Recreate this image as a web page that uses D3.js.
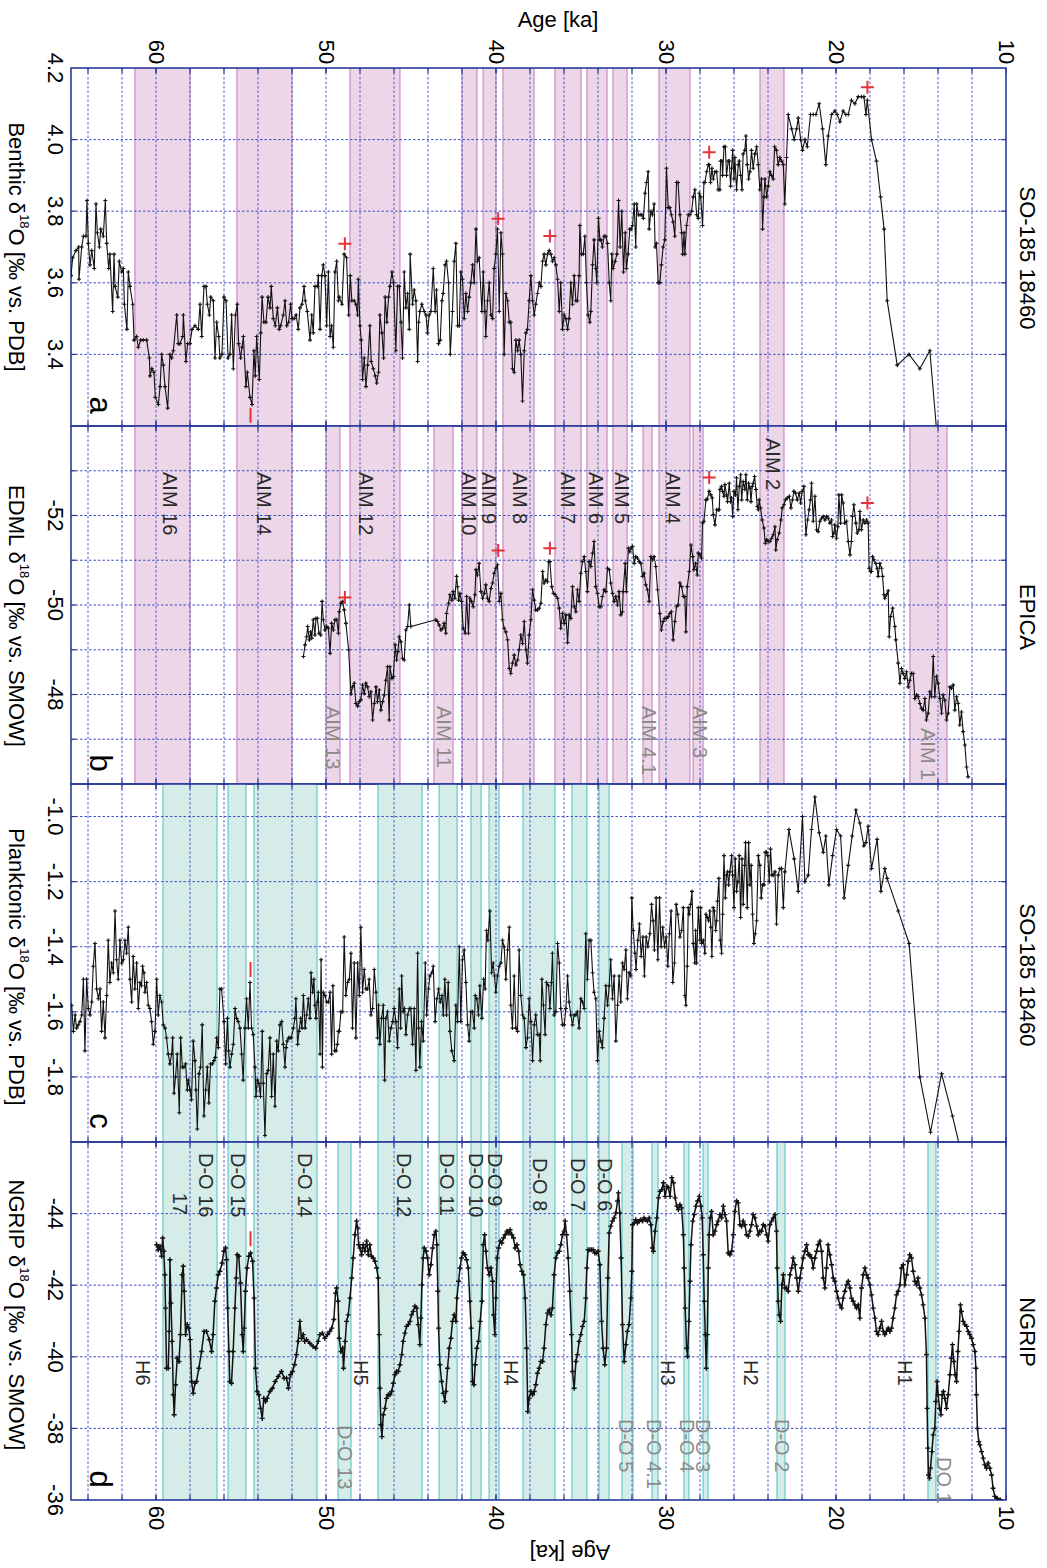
<!DOCTYPE html>
<html><head><meta charset="utf-8">
<script src="https://cdn.jsdelivr.net/npm/d3@7"></script>
<style>body{margin:0;background:#fff}svg{display:block}text{font-family:"Liberation Sans",Arial,Helvetica,sans-serif}</style>
</head><body><svg id="chart" width="1047" height="1568"></svg>
<script>
// ---------------- DATA ----------------
const ageGridTicks = [12,14,16,18,20,22,24,26,28,30,32,34,36,38,40,42,44,46,48,50,52,54,56,58,60,62,64];
const ageLabelTicks = [10,20,30,40,50,60];

const benthicTicks = [4.2,4.0,3.8,3.6,3.4];
const benthicGrid = [4.0,3.8,3.6,3.4];
const edmlTicks = [-52,-50,-48];
const edmlGrid = [-53,-52,-51,-50,-49,-48,-47];
const planktonicTicks = [-1.0,-1.2,-1.4,-1.6,-1.8];
const planktonicGrid = [-1.0,-1.2,-1.4,-1.6,-1.8];
const ngripTicks = [-44,-42,-40,-38,-36];
const ngripGrid = [-44,-42,-40,-38];

const aimBands = [[61.24,58.0],[55.24,52.0],[48.59,45.65],[42.0,41.12],[40.76,40.0],[39.59,37.76],[36.53,35.0],[34.65,33.47],[33.12,32.29],[30.41,28.59],[24.47,23.06]];
const aimBandsExtra = [[50.0,49.18],[43.65,42.53],[31.35,30.82],[28.41,27.82],[15.65,13.47]];
const doBands = [[59.59,56.41],[55.76,54.71],[54.24,50.53],[46.94,44.35],[43.35,42.29],[41.47,40.88],[40.41,39.82],[38.41,36.53],[35.53,34.65],[33.94,33.35]];
const doBandsExtra = [[49.29,48.53],[32.59,31.94],[30.82,30.47],[28.94,28.65],[27.82,27.53],[23.47,23.0],[14.59,14.12]];

const aimLabels = [["AIM 16",59.18],["AIM 14",53.65],["AIM 12",47.65],["AIM 10",41.59],["AIM 9",40.41],["AIM 8",38.59],["AIM 7",35.76],["AIM 6",34.12],["AIM 5",32.59],["AIM 4",29.59]];
const aimLabelsHigh = [["AIM 2",23.71]];
const aimLabelsGray = [["AIM 13",49.59],["AIM 11",43.06],["AIM 4.1",31.0],["AIM 3",28.0]];
const aimLabelsGrayLow = [["AIM 1",14.59]];
const doLabels = [["D-O 16",57.06],["D-O 15",55.18],["D-O 14",51.24],["D-O 12",45.41],["D-O 11",42.88],["D-O 10",41.18],["D-O 9",40.06]];
const doLabels2 = [["D-O 8",37.41],["D-O 7",35.18],["D-O 6",33.59]];
const doLabelsGray = [["D-O 13",48.88]];
const doLabelsGray2 = [["D-O 5",32.35],["D-O 4.1",30.71],["D-O 4",28.76],["D-O 3",27.82],["D-O 2",23.18]];
const doLabelsGray3 = [["DO 1",13.65]];
const heinrichLabels = [["H6",60.76],["H5",47.94],["H4",39.12],["H3",29.88],["H2",25.0],["H1",15.94]];

const benthicPlus = [[48.89,3.709],[39.87,3.779],[36.83,3.731],[27.46,3.965],[18.15,4.146]];
const benthicMinus = [[54.44,3.23]];
const edmlPlus = [[48.89,-50.17],[39.87,-51.22],[36.83,-51.27],[27.46,-52.85],[18.15,-52.28]];
const planktonicMinus = [[54.44,-1.47]];
const ngripMinus = [[54.44,-43.30]];

const benthic = [[65.0,3.62],[64.9,3.67],[64.71,3.69],[64.55,3.70],[64.53,3.61],[64.37,3.70],[64.27,3.73],[64.12,3.73],[64.06,3.83],[63.98,3.71],[63.88,3.65],[63.78,3.69],[63.63,3.64],[63.53,3.82],[63.45,3.74],[63.33,3.70],[63.25,3.75],[63.10,3.73],[62.98,3.83],[62.90,3.71],[62.78,3.64],[62.71,3.68],[62.55,3.52],[62.47,3.68],[62.41,3.59],[62.25,3.56],[62.16,3.66],[62.02,3.63],[61.92,3.64],[61.86,3.54],[61.71,3.47],[61.63,3.63],[61.53,3.59],[61.37,3.54],[61.29,3.44],[61.14,3.45],[61.04,3.42],[60.90,3.44],[60.75,3.44],[60.55,3.44],[60.39,3.39],[60.35,3.34],[60.24,3.36],[60.12,3.35],[60.04,3.28],[59.86,3.26],[59.76,3.31],[59.67,3.40],[59.57,3.37],[59.47,3.31],[59.31,3.25],[59.18,3.40],[59.08,3.39],[58.98,3.41],[58.78,3.51],[58.69,3.43],[58.59,3.43],[58.43,3.45],[58.39,3.51],[58.24,3.38],[58.14,3.43],[58.00,3.43],[57.88,3.47],[57.71,3.48],[57.51,3.47],[57.41,3.54],[57.31,3.45],[57.18,3.59],[57.06,3.59],[56.98,3.54],[56.86,3.51],[56.78,3.56],[56.63,3.55],[56.53,3.39],[56.43,3.49],[56.31,3.45],[56.24,3.39],[56.12,3.40],[56.00,3.56],[55.88,3.55],[55.76,3.39],[55.65,3.40],[55.55,3.51],[55.45,3.36],[55.33,3.51],[55.22,3.54],[55.14,3.43],[55.02,3.39],[54.94,3.42],[54.86,3.45],[54.71,3.31],[54.63,3.35],[54.47,3.28],[54.35,3.26],[54.24,3.41],[54.16,3.34],[54.08,3.45],[53.92,3.33],[53.84,3.46],[53.76,3.56],[53.65,3.49],[53.53,3.49],[53.41,3.56],[53.29,3.53],[53.22,3.59],[53.10,3.50],[52.98,3.48],[52.86,3.53],[52.75,3.47],[52.67,3.48],[52.51,3.51],[52.41,3.55],[52.31,3.48],[52.20,3.49],[52.08,3.54],[52.00,3.50],[51.88,3.50],[51.76,3.51],[51.63,3.47],[51.53,3.53],[51.41,3.54],[51.29,3.59],[51.22,3.55],[51.10,3.52],[50.94,3.44],[50.84,3.51],[50.75,3.46],[50.65,3.59],[50.51,3.59],[50.45,3.62],[50.35,3.47],[50.25,3.62],[50.16,3.65],[50.06,3.62],[49.96,3.48],[49.86,3.63],[49.76,3.45],[49.67,3.48],[49.57,3.42],[49.47,3.63],[49.37,3.66],[49.27,3.55],
[49.22,3.56],[49.06,3.54],[48.93,3.68],[48.79,3.67],[48.67,3.51],[48.57,3.62],[48.48,3.55],[48.34,3.55],[48.24,3.54],[48.14,3.51],[48.10,3.61],[48.00,3.48],[47.93,3.44],[47.85,3.33],[47.75,3.39],[47.65,3.31],[47.55,3.37],[47.42,3.48],[47.34,3.38],[47.22,3.36],[47.10,3.34],[47.02,3.32],[46.91,3.35],[46.83,3.51],[46.71,3.46],[46.61,3.39],[46.52,3.56],[46.42,3.49],[46.32,3.56],[46.24,3.59],[46.12,3.63],[46.03,3.60],[45.89,3.41],[45.79,3.59],[45.69,3.59],[45.59,3.49],[45.50,3.39],[45.40,3.63],[45.30,3.53],[45.20,3.57],[45.10,3.47],[45.05,3.68],[44.91,3.54],[44.81,3.58],[44.71,3.55],[44.61,3.38],[44.55,3.49],[44.48,3.52],[44.36,3.54],[44.22,3.52],[44.12,3.51],[44.03,3.46],[43.93,3.51],[43.83,3.52],[43.69,3.64],[43.58,3.52],[43.50,3.58],[43.38,3.43],[43.28,3.44],[43.18,3.55],[43.11,3.57],[42.99,3.65],[42.91,3.66],[42.79,3.60],[42.69,3.40],[42.56,3.52],[42.46,3.66],[42.36,3.71],[42.26,3.48],[42.16,3.48],[42.07,3.63],[41.97,3.61],[41.87,3.50],[41.77,3.57],[41.67,3.52],[41.58,3.56],[41.48,3.60],[41.38,3.65],[41.28,3.60],[41.18,3.75],[41.09,3.66],[40.99,3.67],[40.83,3.52],[40.75,3.63],[40.65,3.52],[40.60,3.45],[40.50,3.55],[40.40,3.60],[40.30,3.51],[40.20,3.50],[40.11,3.64],[40.01,3.68],[39.91,3.75],[39.81,3.52],[39.71,3.74],[39.62,3.68],[39.52,3.40],[39.42,3.57],[39.32,3.55],[39.22,3.49],[39.13,3.49],[39.03,3.36],[38.93,3.35],[38.83,3.44],[38.73,3.41],[38.64,3.44],[38.54,3.40],[38.44,3.27],[38.34,3.41],[38.24,3.46],[38.15,3.47],[38.05,3.55],[37.95,3.62],[37.85,3.55],[37.75,3.51],[37.66,3.54],[37.56,3.57],[37.46,3.60],[37.36,3.59],[37.26,3.66],[37.17,3.68],[37.07,3.65],[36.97,3.68],[36.87,3.69],[36.77,3.68],[36.68,3.66],[36.58,3.67],[36.48,3.65],[36.38,3.61],[36.28,3.52],[36.19,3.60],[36.09,3.47],[35.99,3.51],[35.89,3.50],[35.79,3.47],[35.70,3.50],[35.60,3.60],[35.50,3.54],[35.40,3.62],[35.30,3.55],[35.21,3.55],[35.11,3.62],[35.07,3.76],[34.97,3.68],[34.87,3.68],[34.77,3.73],[34.68,3.60],[34.58,3.51],[34.48,3.49],[34.42,3.52],[34.32,3.65],[34.23,3.72],[34.13,3.64],[34.07,3.60],[33.97,3.78],[33.89,3.72],[33.83,3.72],[33.74,3.70],[33.64,3.73],[33.54,3.73],[33.44,3.71],[33.34,3.60],[33.25,3.55],[33.19,3.68],[33.11,3.64],[32.99,3.66],[32.89,3.68],[32.79,3.83],[32.70,3.70],[32.60,3.80],[32.50,3.63],[32.40,3.74],[32.33,3.64],[32.23,3.68],[32.13,3.75],[32.05,3.75],[31.97,3.76],[31.87,3.82],[31.78,3.70],[31.72,3.82],[31.62,3.79],[31.52,3.79],[31.42,3.79],[31.33,3.78],[31.23,3.85],[31.15,3.88],[31.05,3.91],[30.99,3.75],[30.89,3.80],[30.80,3.79],[30.70,3.82],[30.64,3.70],[30.56,3.71],[30.46,3.60],[30.36,3.60],[30.27,3.65],[30.17,3.70],[30.07,3.72],[29.97,3.92],[29.87,3.81],[29.78,3.81],[29.68,3.79],[29.58,3.77],[29.48,3.73],[29.38,3.88],[29.29,3.88],
[29.18,3.79],[29.08,3.74],[29.02,3.68],[28.94,3.74],[28.89,3.68],[28.79,3.76],[28.69,3.79],[28.59,3.79],[28.49,3.80],[28.40,3.84],[28.30,3.86],[28.20,3.79],[28.10,3.78],[28.04,3.85],[27.96,3.84],[27.85,3.76],[27.77,3.88],[27.71,3.88],[27.61,3.91],[27.51,3.93],[27.46,3.93],[27.38,3.88],[27.30,3.92],[27.22,3.89],[27.12,3.91],[27.02,3.91],[26.93,3.86],[26.83,3.86],[26.79,3.94],[26.71,3.94],[26.67,3.90],[26.59,3.98],[26.51,3.98],[26.44,3.90],[26.34,3.94],[26.28,3.94],[26.20,3.87],[26.14,3.92],[26.08,3.97],[26.00,3.89],[25.95,3.95],[25.85,3.86],[25.75,3.93],[25.69,3.94],[25.61,3.90],[25.53,3.86],[25.46,3.96],[25.36,3.97],[25.30,4.01],[25.22,3.93],[25.14,3.89],[25.06,3.91],[24.97,3.97],[24.87,3.92],[24.77,3.96],[24.67,3.98],[24.57,3.93],[24.48,3.86],[24.38,3.89],[24.32,3.75],[24.24,3.84],[24.18,3.89],[24.08,3.84],[23.99,3.87],[23.89,3.91],[23.79,3.90],[23.69,3.89],[23.61,3.98],[23.50,3.97],[23.40,3.93],[23.30,3.95],[23.20,3.94],[23.10,3.93],[23.01,3.82],[22.91,3.95],[22.81,4.07],[22.61,4.03],[22.46,4.00],[22.32,4.03],[22.22,4.06],[22.08,4.00],[21.97,3.97],[21.83,4.00],[21.69,3.98],[21.50,4.07],[21.34,4.07],[21.18,4.07],[20.99,4.10],[20.79,4.03],[20.60,3.93],[20.46,4.01],[20.26,4.07],[20.07,4.08],[19.93,4.07],[19.77,4.05],[19.58,4.08],[19.42,4.07],[19.28,4.07],[19.09,4.11],[18.89,4.10],[18.69,4.12],[18.50,4.12],[18.36,4.12],[18.24,4.07],[18.16,4.11],[17.91,4.00],[17.62,3.94],[17.38,3.84],[17.17,3.75],[16.99,3.55],[16.40,3.37],[15.70,3.40],[15.07,3.36],[14.48,3.41],[14.05,3.17]];

const edml = [[51.33,-48.85],[51.23,-49.11],[51.14,-49.29],[51.08,-49.52],[50.98,-49.22],[50.90,-49.40],[50.84,-49.26],[50.75,-49.67],[50.65,-49.33],[50.59,-49.70],[50.51,-49.70],[50.41,-49.37],[50.31,-49.33],[50.23,-50.08],[50.16,-49.67],[50.06,-49.44],[49.96,-49.52],[49.86,-49.48],[49.76,-48.92],[49.67,-49.59],[49.57,-49.44],[49.47,-49.67],[49.37,-49.67],[49.27,-49.37],
[49.22,-49.85],[49.12,-50.04],[49.02,-50.08],[48.93,-49.89],[48.83,-49.59],[48.67,-49.00],[48.53,-48.01],[48.44,-48.17],[48.34,-48.25],[48.24,-47.80],[48.14,-47.74],[48.04,-47.84],[47.95,-47.88],[47.85,-48.21],[47.75,-48.02],[47.65,-48.25],[47.55,-48.17],[47.46,-47.95],[47.36,-48.06],[47.26,-47.43],[47.16,-47.80],[47.06,-48.17],[46.97,-47.84],[46.87,-48.10],[46.77,-47.65],[46.67,-47.84],[46.57,-47.99],[46.48,-48.32],[46.38,-48.62],[46.28,-47.43],[46.24,-48.62],[46.12,-48.36],[46.04,-48.40],[45.93,-49.11],[45.85,-48.77],[45.77,-48.96],[45.69,-49.29],[45.59,-49.18],[45.50,-48.81],[45.40,-48.77],[45.30,-49.44],[45.20,-49.52],[45.10,-50.00],[45.01,-49.52],[43.54,-49.67],[43.44,-49.63],[43.34,-49.55],[43.24,-49.44],[43.14,-49.48],[43.05,-49.59],[42.95,-49.37],[42.91,-49.81],[42.79,-50.04],[42.71,-50.23],[42.60,-50.11],[42.52,-50.30],[42.42,-50.15],[42.32,-50.64],[42.26,-50.41],[42.20,-50.11],[42.12,-50.26],[42.03,-50.08],[41.93,-49.48],[41.81,-49.37],[41.73,-50.19],[41.62,-49.37],[41.54,-50.15],[41.44,-50.08],[41.34,-49.96],[41.24,-50.23],[41.18,-50.79],[41.09,-50.67],[40.99,-50.93],[40.89,-50.30],[40.79,-50.15],[40.69,-50.26],[40.60,-50.45],[40.50,-50.15],[40.40,-50.08],[40.30,-50.37],[40.20,-50.49],[40.11,-50.71],[40.01,-50.82],[39.91,-50.90],[39.81,-50.08],[39.71,-50.26],[39.62,-49.67],[39.52,-49.48],[39.42,-49.40],[39.32,-49.22],[39.22,-48.58],[39.13,-48.47],[39.03,-48.70],[38.93,-48.88],[38.83,-48.66],[38.73,-48.77],[38.64,-49.00],[38.54,-49.33],[38.44,-49.14],[38.34,-49.63],[38.24,-49.00],[38.15,-48.70],[38.05,-49.33],[37.95,-49.67],[37.85,-50.34],[37.75,-50.11],[37.66,-49.89],[37.56,-49.89],[37.46,-49.93],[37.36,-50.04],[37.26,-50.75],[37.17,-50.49],[37.07,-50.56],[36.97,-50.52],[36.91,-50.97],[36.83,-50.97],[36.72,-50.41],[36.62,-50.26],[36.52,-50.23],[36.38,-50.15],[36.28,-49.93],[36.19,-49.48],[36.09,-49.81],[35.99,-49.59],[35.89,-49.78],[35.79,-49.16],[35.70,-49.78],[35.60,-49.70],[35.50,-50.41],[35.40,-49.96],[35.30,-49.85],[35.21,-50.34],[35.11,-50.08],[35.01,-50.71],[34.91,-50.97],[34.81,-51.08],[34.72,-50.75],[34.62,-50.30],[34.52,-50.97],[34.42,-50.86],[34.32,-51.16],[34.23,-51.42],[34.13,-50.41],[34.03,-50.26],[33.93,-49.96],[33.83,-49.96],[33.74,-50.19],[33.64,-50.34],[33.54,-50.30],[33.44,-50.82],[33.34,-50.79],[33.25,-50.49],[33.15,-50.26],[33.05,-50.08],[32.95,-50.19],[32.85,-50.00],[32.76,-50.30],[32.66,-49.78],[32.56,-49.85],[32.52,-50.30],[32.40,-50.93],[32.33,-50.30],[32.21,-51.27],[32.13,-51.19],[32.05,-51.27],[31.97,-51.31],[31.87,-50.93],[31.78,-51.08],[31.68,-51.05],[31.58,-50.97],[31.48,-50.93],[31.38,-50.64],[31.29,-50.71],[31.19,-50.45],[31.09,-50.34],[30.99,-50.08],[30.89,-51.08],[30.80,-51.01],[30.70,-51.08],[30.60,-50.86],[30.50,-50.34],[30.36,-49.81],[30.27,-49.44],[30.17,-49.63],[30.07,-49.70],[29.97,-49.70],[29.87,-49.74],[29.78,-49.81],[29.68,-49.85],[29.58,-49.22],[29.48,-49.63],[29.38,-49.96],[29.29,-50.00],
[29.18,-50.49],[29.08,-50.41],[28.98,-50.19],[28.89,-50.19],[28.83,-49.40],[28.75,-50.41],[28.63,-50.75],[28.53,-51.34],[28.43,-51.08],[28.36,-50.79],[28.26,-50.93],[28.16,-50.67],[28.10,-51.16],[28.00,-51.12],[27.91,-51.05],[27.85,-51.83],[27.77,-51.87],[27.65,-52.35],[27.57,-52.37],[27.46,-52.54],[27.36,-52.46],[27.28,-52.39],[27.22,-52.02],[27.12,-51.79],[27.02,-52.13],[26.93,-52.13],[26.87,-52.13],[26.83,-52.58],[26.73,-52.65],[26.67,-52.54],[26.59,-52.43],[26.53,-52.69],[26.44,-52.46],[26.38,-52.31],[26.28,-52.72],[26.20,-52.31],[26.14,-52.39],[26.08,-51.98],[26.00,-52.54],[25.91,-52.46],[25.85,-52.84],[25.77,-52.13],[25.69,-52.65],[25.61,-52.91],[25.55,-52.35],[25.46,-52.76],[25.36,-52.58],[25.30,-52.91],[25.22,-52.35],[25.14,-52.72],[25.06,-52.61],[25.00,-52.31],[24.93,-52.65],[24.87,-52.72],[24.79,-52.87],[24.71,-52.58],[24.63,-52.20],[24.57,-52.13],[24.52,-52.35],[24.44,-52.17],[24.34,-51.90],[24.24,-51.72],[24.16,-51.38],[24.08,-51.46],[23.99,-51.42],[23.89,-51.42],[23.79,-51.49],[23.69,-51.57],[23.59,-51.75],[23.54,-51.23],[23.46,-51.46],[23.34,-51.61],[23.24,-51.90],[23.16,-52.17],[23.06,-52.24],[22.97,-52.35],[22.87,-52.39],[22.75,-52.43],[22.65,-52.17],[22.56,-52.35],[22.48,-52.54],[22.38,-52.50],[22.28,-52.35],[22.16,-52.50],[22.08,-52.28],[21.99,-52.54],[21.89,-52.65],[21.77,-51.57],[21.67,-51.90],[21.58,-52.13],[21.50,-52.35],[21.44,-52.72],[21.34,-51.87],[21.24,-52.43],[21.14,-51.68],[21.05,-51.64],[20.95,-51.87],[20.85,-51.94],[20.75,-51.98],[20.65,-51.90],[20.56,-51.98],[20.46,-51.94],[20.36,-51.83],[20.26,-51.90],[20.20,-51.53],[20.12,-51.61],[20.07,-51.79],[19.97,-51.49],[19.89,-51.75],[19.83,-52.46],[19.73,-51.83],[19.67,-52.46],[19.58,-52.28],[19.48,-51.83],[19.38,-51.87],[19.28,-51.42],[19.18,-51.12],[19.09,-51.42],[19.03,-51.98],[18.95,-52.24],[18.83,-51.83],[18.75,-51.61],[18.65,-51.68],[18.60,-52.09],[18.50,-51.68],[18.40,-51.90],[18.30,-51.83],[18.20,-51.90],[18.11,-51.83],[18.05,-50.82],[17.97,-50.75],[17.91,-50.75],[17.85,-51.08],[17.77,-51.01],[17.66,-50.93],[17.58,-50.82],[17.52,-50.64],[17.42,-50.93],[17.32,-50.82],[17.26,-50.64],[17.18,-50.23],[17.13,-50.15],[17.03,-50.23],[16.93,-50.32],[16.87,-49.29],[16.79,-49.74],[16.67,-49.93],[16.54,-49.52],[16.48,-49.22],[16.34,-48.70],[16.24,-48.25],[16.15,-48.58],[16.05,-48.47],[15.95,-48.36],[15.85,-48.51],[15.75,-48.17],[15.66,-48.32],[15.56,-48.47],[15.46,-48.47],[15.36,-47.91],[15.26,-47.99],[15.17,-47.95],[15.07,-47.80],[14.97,-47.69],[14.87,-47.65],[14.77,-47.91],[14.68,-47.43],[14.58,-47.58],[14.48,-48.06],[14.38,-47.95],[14.28,-48.85],[14.19,-47.95],[14.09,-48.40],[13.99,-48.25],[13.89,-47.91],[13.79,-47.58],[13.70,-47.99],[13.60,-47.87],[13.50,-47.43],[13.40,-47.58],[13.30,-48.17],[13.21,-48.14],[13.11,-48.21],[13.01,-47.65],[12.91,-47.95],[12.81,-47.80],[12.72,-47.32],[12.62,-47.61],[12.52,-47.17],[12.42,-46.87],[12.32,-46.38],[12.23,-46.16]];

const planktonic = [[64.96,-1.58],[64.86,-1.66],[64.76,-1.61],[64.67,-1.65],[64.57,-1.64],[64.47,-1.63],[64.37,-1.61],[64.27,-1.50],[64.18,-1.72],[64.08,-1.50],[63.98,-1.59],[63.88,-1.61],[63.78,-1.57],[63.69,-1.46],[63.59,-1.39],[63.49,-1.53],[63.39,-1.56],[63.29,-1.53],[63.20,-1.66],[63.10,-1.57],[63.00,-1.68],[62.90,-1.55],[62.81,-1.38],[62.71,-1.51],[62.61,-1.45],[62.51,-1.48],[62.41,-1.29],[62.32,-1.44],[62.22,-1.50],[62.12,-1.38],[62.02,-1.45],[61.92,-1.44],[61.83,-1.38],[61.73,-1.42],[61.63,-1.34],[61.53,-1.50],[61.43,-1.57],[61.34,-1.43],[61.24,-1.53],[61.14,-1.45],[61.04,-1.59],[60.94,-1.51],[60.85,-1.52],[60.79,-1.46],[60.71,-1.48],[60.65,-1.54],[60.55,-1.51],[60.45,-1.58],[60.36,-1.59],[60.26,-1.63],[60.16,-1.70],[60.06,-1.66],[59.96,-1.50],[59.87,-1.61],[59.77,-1.55],[59.67,-1.57],[59.57,-1.64],[59.47,-1.65],[59.38,-1.68],[59.28,-1.73],[59.18,-1.76],[59.08,-1.73],[59.02,-1.68],[58.94,-1.85],[58.85,-1.80],[58.75,-1.73],[58.63,-1.91],[58.55,-1.68],[58.45,-1.77],[58.36,-1.77],[58.26,-1.76],[58.16,-1.84],[58.10,-1.81],[58.00,-1.84],[57.91,-1.87],[57.81,-1.69],[57.71,-1.75],[57.65,-1.84],[57.57,-1.96],[57.47,-1.79],[57.38,-1.77],[57.28,-1.64],[57.18,-1.92],[57.08,-1.84],[56.98,-1.77],[56.89,-1.88],[56.79,-1.76],[56.69,-1.76],[56.59,-1.75],[56.51,-1.74],[56.43,-1.68],[56.33,-1.71],[56.24,-1.53],[56.14,-1.53],[56.00,-1.63],[55.90,-1.76],[55.80,-1.62],[55.73,-1.72],[55.65,-1.77],[55.55,-1.73],[55.45,-1.70],[55.35,-1.59],[55.26,-1.62],[55.16,-1.63],[55.06,-1.65],[54.96,-1.73],[54.87,-1.81],[54.77,-1.65],[54.67,-1.56],[54.57,-1.65],[54.47,-1.51],[54.38,-1.65],[54.28,-1.67],[54.18,-1.77],[54.12,-1.86],[54.04,-1.81],[53.95,-1.82],[53.85,-1.86],[53.75,-1.66],[53.69,-1.82],[53.59,-1.98],[53.49,-1.79],[53.40,-1.78],[53.30,-1.68],[53.20,-1.86],[53.10,-1.73],[53.00,-1.89],[52.90,-1.69],[52.81,-1.72],[52.71,-1.64],[52.61,-1.63],[52.51,-1.70],[52.41,-1.77],[52.35,-1.71],[52.28,-1.69],[52.20,-1.68],[52.12,-1.68],[52.04,-1.68],[51.92,-1.65],[51.83,-1.62],[51.77,-1.56],[51.67,-1.70],[51.59,-1.66],[51.49,-1.62],[51.41,-1.65],[51.33,-1.55],[51.23,-1.65],[51.14,-1.61],[51.04,-1.56],[50.94,-1.62],[50.88,-1.48],[50.78,-1.54],[50.71,-1.50],[50.65,-1.58],[50.59,-1.62],[50.51,-1.57],[50.45,-1.54],[50.35,-1.73],[50.29,-1.44],[50.21,-1.77],[50.16,-1.54],[50.06,-1.55],[49.96,-1.57],[49.86,-1.57],[49.76,-1.54],[49.67,-1.73],[49.59,-1.52],[49.49,-1.72],[49.41,-1.72],[49.33,-1.70],[49.27,-1.66],
[49.22,-1.66],[49.12,-1.60],[49.02,-1.60],[48.93,-1.37],[48.83,-1.55],[48.73,-1.51],[48.63,-1.50],[48.53,-1.42],[48.44,-1.65],[48.34,-1.45],[48.24,-1.68],[48.14,-1.45],[48.04,-1.55],[47.95,-1.34],[47.85,-1.54],[47.75,-1.47],[47.65,-1.53],[47.55,-1.53],[47.46,-1.50],[47.36,-1.61],[47.26,-1.59],[47.16,-1.47],[47.06,-1.54],[46.97,-1.68],[46.91,-1.58],[46.83,-1.70],[46.73,-1.62],[46.63,-1.58],[46.55,-1.81],[46.48,-1.62],[46.38,-1.60],[46.28,-1.69],[46.18,-1.65],[46.08,-1.63],[45.99,-1.59],[45.89,-1.63],[45.79,-1.71],[45.69,-1.53],[45.61,-1.65],[45.55,-1.49],[45.46,-1.60],[45.38,-1.59],[45.30,-1.67],[45.20,-1.61],[45.10,-1.59],[45.01,-1.59],[44.91,-1.70],[44.81,-1.59],[44.71,-1.78],[44.61,-1.42],[44.55,-1.65],[44.48,-1.77],[44.38,-1.63],[44.28,-1.69],[44.16,-1.45],[44.08,-1.61],[43.97,-1.53],[43.89,-1.49],[43.77,-1.48],[43.69,-1.46],[43.58,-1.63],[43.48,-1.56],[43.38,-1.53],[43.28,-1.57],[43.18,-1.55],[43.10,-1.61],[43.01,-1.50],[42.91,-1.61],[42.81,-1.51],[42.71,-1.66],[42.60,-1.72],[42.46,-1.75],[42.36,-1.58],[42.26,-1.63],[42.16,-1.40],[42.07,-1.63],[41.97,-1.44],[41.87,-1.41],[41.77,-1.51],[41.67,-1.64],[41.58,-1.69],[41.48,-1.60],[41.38,-1.60],[41.28,-1.65],[41.22,-1.55],[41.13,-1.56],[41.03,-1.61],[40.95,-1.52],[40.83,-1.62],[40.73,-1.50],[40.64,-1.53],[40.56,-1.35],[40.48,-1.38],[40.36,-1.29],[40.26,-1.48],[40.17,-1.45],[40.09,-1.49],[40.01,-1.54],[39.91,-1.49],[39.81,-1.46],[39.71,-1.45],[39.62,-1.38],[39.52,-1.40],[39.42,-1.50],[39.32,-1.41],[39.22,-1.34],[39.13,-1.58],[39.03,-1.65],[38.93,-1.49],[38.83,-1.65],[38.73,-1.66],[38.64,-1.41],[38.54,-1.55],[38.44,-1.61],[38.34,-1.62],[38.24,-1.71],[38.15,-1.68],[38.05,-1.56],[37.95,-1.63],[37.85,-1.75],[37.75,-1.64],[37.66,-1.61],[37.56,-1.67],[37.46,-1.67],[37.40,-1.75],[37.30,-1.50],[37.21,-1.58],[37.11,-1.67],[37.03,-1.51],[36.91,-1.52],[36.83,-1.59],[36.74,-1.51],[36.68,-1.42],[36.58,-1.61],[36.48,-1.60],[36.38,-1.39],[36.28,-1.45],[36.19,-1.59],[36.09,-1.64],[35.99,-1.64],[35.89,-1.59],[35.79,-1.49],[35.70,-1.57],[35.60,-1.61],[35.50,-1.64],[35.40,-1.61],[35.30,-1.61],[35.21,-1.60],[35.11,-1.65],[35.01,-1.56],[34.91,-1.57],[34.81,-1.59],[34.72,-1.36],[34.62,-1.50],[34.52,-1.38],[34.42,-1.38],[34.32,-1.48],[34.23,-1.54],[34.13,-1.56],[34.03,-1.75],[33.93,-1.66],[33.83,-1.69],[33.74,-1.71],[33.64,-1.62],[33.54,-1.52],[33.44,-1.58],[33.34,-1.52],[33.25,-1.44],[33.15,-1.56],[33.05,-1.49],[32.95,-1.69],[32.85,-1.58],[32.76,-1.49],[32.66,-1.57],[32.56,-1.45],[32.46,-1.47],[32.36,-1.41],[32.27,-1.56],[32.17,-1.48],[32.07,-1.49],[32.01,-1.25],[31.93,-1.35],[31.83,-1.42],[31.76,-1.47],[31.66,-1.38],[31.56,-1.33],[31.46,-1.43],[31.36,-1.37],[31.27,-1.49],[31.17,-1.37],[31.07,-1.40],[30.95,-1.36],[30.85,-1.27],[30.76,-1.32],[30.68,-1.41],[30.58,-1.25],[30.48,-1.44],[30.38,-1.25],[30.29,-1.40],[30.19,-1.34],[30.09,-1.40],[29.99,-1.37],[29.89,-1.46],[29.80,-1.36],[29.70,-1.29],[29.60,-1.51],[29.50,-1.45],[29.40,-1.27],[29.31,-1.30],
[29.18,-1.37],[29.08,-1.35],[28.98,-1.28],[28.89,-1.55],[28.83,-1.58],[28.75,-1.46],[28.69,-1.28],[28.63,-1.30],[28.55,-1.27],[28.47,-1.23],[28.40,-1.39],[28.30,-1.45],[28.26,-1.35],[28.20,-1.45],[28.10,-1.28],[28.00,-1.38],[27.96,-1.28],[27.91,-1.39],[27.81,-1.38],[27.71,-1.42],[27.65,-1.30],[27.57,-1.31],[27.49,-1.32],[27.42,-1.29],[27.36,-1.34],[27.30,-1.43],[27.22,-1.28],[27.16,-1.29],[27.08,-1.35],[27.02,-1.32],[26.97,-1.26],[26.89,-1.19],[26.81,-1.38],[26.73,-1.42],[26.67,-1.30],[26.59,-1.12],[26.51,-1.25],[26.44,-1.18],[26.38,-1.17],[26.32,-1.21],[26.24,-1.17],[26.14,-1.12],[26.08,-1.18],[26.00,-1.28],[25.93,-1.13],[25.85,-1.23],[25.77,-1.20],[25.69,-1.12],[25.61,-1.31],[25.53,-1.13],[25.46,-1.27],[25.38,-1.15],[25.32,-1.08],[25.22,-1.28],[25.14,-1.08],[25.06,-1.21],[24.99,-1.15],[24.91,-1.30],[24.83,-1.39],[24.75,-1.36],[24.67,-1.32],[24.57,-1.12],[24.48,-1.15],[24.40,-1.25],[24.32,-1.21],[24.24,-1.21],[24.16,-1.11],[24.08,-1.11],[24.01,-1.12],[23.93,-1.20],[23.85,-1.10],[23.77,-1.18],[23.69,-1.18],[23.59,-1.17],[23.50,-1.33],[23.40,-1.18],[23.30,-1.16],[23.20,-1.16],[23.10,-1.28],[23.01,-1.17],[22.77,-1.04],[22.46,-1.13],[22.22,-1.23],[21.97,-1.00],[21.83,-1.20],[21.63,-1.18],[21.44,-1.04],[21.24,-0.94],[20.99,-1.05],[20.75,-1.11],[20.60,-1.06],[20.42,-1.21],[20.20,-1.12],[19.97,-1.04],[19.73,-1.06],[19.52,-1.25],[19.28,-1.15],[19.05,-1.06],[18.83,-0.98],[18.60,-1.02],[18.36,-1.09],[18.24,-1.08],[18.11,-1.03],[17.91,-1.16],[17.58,-1.07],[17.36,-1.23],[17.13,-1.16],[16.99,-1.19],[16.34,-1.29],[15.70,-1.39],[15.07,-1.80],[14.44,-1.97],[13.79,-1.79],[13.15,-1.92],[12.65,-2.03]];

const ngrip = [[59.96,-43.13],[59.87,-42.99],[59.77,-43.09],[59.67,-42.81],[59.61,-43.32],[59.54,-42.95],[59.48,-42.29],[59.44,-41.36],[59.38,-39.68],[59.28,-39.68],[59.22,-40.71],[59.18,-42.71],[59.12,-41.50],[59.05,-40.43],[58.98,-38.94],[58.93,-38.38],[58.85,-39.22],[58.75,-39.96],[58.65,-39.87],[58.56,-40.62],[58.46,-42.29],[58.40,-42.53],[58.34,-41.83],[58.26,-40.62],[58.16,-40.90],[58.07,-40.80],[57.99,-40.48],[57.91,-39.31],[57.81,-38.98],[57.71,-39.26],[57.62,-39.31],[57.48,-39.68],[57.32,-40.15],[57.17,-40.71],[57.03,-40.71],[56.87,-40.48],[56.73,-40.15],[56.64,-40.62],[56.54,-41.55],[56.44,-41.92],[56.34,-42.29],[56.24,-42.39],[56.11,-42.62],[56.01,-42.95],[55.91,-43.04],[55.85,-42.71],[55.79,-41.36],[55.71,-40.15],[55.66,-39.31],[55.56,-39.26],[55.46,-40.15],[55.36,-41.36],[55.28,-42.20],[55.22,-42.85],[55.13,-42.81],[55.03,-42.06],[54.93,-40.62],[54.87,-40.15],[54.81,-40.80],[54.74,-41.83],[54.64,-42.48],[54.54,-42.81],[54.44,-42.90],[54.32,-42.67],[54.23,-41.64],[54.15,-39.68],[54.05,-39.03],[53.95,-38.94],[53.85,-38.56],[53.75,-38.28],[53.66,-38.84],[53.56,-38.75],[53.46,-38.84],[53.30,-39.03],[53.15,-39.12],[52.99,-39.31],[52.81,-39.45],[52.62,-39.59],[52.46,-39.40],[52.32,-39.40],[52.21,-39.12],[52.09,-39.50],[51.97,-39.59],[51.85,-39.78],[51.74,-40.06],[51.64,-40.43],[51.54,-40.99],[51.44,-40.52],[51.34,-40.62],[51.25,-40.43],[51.15,-40.48],[50.95,-40.38],[50.76,-40.29],[50.60,-40.24],[50.46,-40.43],[50.36,-40.62],[50.21,-40.66],[50.07,-40.52],[49.91,-40.62],[49.78,-40.71],[49.66,-40.80],[49.54,-41.04],[49.44,-41.78],[49.38,-41.92],[49.29,-41.55],
[49.22,-40.52],[49.12,-40.15],[49.02,-40.24],[48.97,-39.68],[48.87,-40.43],[48.79,-40.99],[48.69,-41.17],[48.59,-41.64],[48.49,-42.20],[48.40,-42.76],[48.30,-43.41],[48.20,-43.79],[48.14,-43.60],[48.08,-43.13],[48.00,-43.04],[47.91,-42.85],[47.81,-43.13],[47.71,-42.95],[47.61,-43.23],[47.51,-42.85],[47.42,-43.13],[47.32,-42.81],[47.22,-42.76],[47.12,-42.67],[47.02,-42.48],[46.93,-42.20],[46.87,-40.62],[46.83,-39.12],[46.77,-38.10],[46.71,-37.77],[46.63,-38.38],[46.53,-38.56],[46.44,-38.84],[46.34,-38.94],[46.24,-38.94],[46.14,-39.03],[46.04,-39.26],[45.95,-39.50],[45.85,-39.59],[45.75,-39.59],[45.65,-39.78],[45.55,-40.06],[45.46,-40.43],[45.36,-40.66],[45.26,-40.85],[45.16,-40.90],[45.06,-40.99],[44.97,-41.17],[44.87,-41.27],[44.77,-41.41],[44.67,-41.36],[44.57,-40.90],[44.48,-40.34],[44.42,-41.08],[44.36,-42.01],[44.28,-42.76],[44.22,-43.04],[44.12,-42.95],[44.03,-42.76],[43.93,-42.29],[43.83,-42.57],[43.73,-43.04],[43.63,-43.41],[43.54,-43.51],[43.48,-43.13],[43.42,-41.83],[43.38,-40.80],[43.30,-39.78],[43.20,-39.31],[43.10,-38.98],[43.01,-38.75],[42.95,-39.03],[42.85,-39.68],[42.75,-40.24],[42.65,-40.52],[42.56,-40.99],[42.46,-41.17],[42.36,-40.99],[42.30,-41.64],[42.20,-42.11],[42.12,-42.48],[42.03,-42.76],[41.93,-42.90],[41.83,-42.85],[41.73,-42.71],[41.63,-42.48],[41.54,-41.55],[41.46,-40.80],[41.38,-39.31],[41.30,-39.22],[41.22,-39.78],[41.13,-40.24],[41.03,-40.43],[40.93,-40.99],[40.83,-41.55],[40.75,-43.13],[40.67,-43.41],[40.60,-42.95],[40.50,-42.48],[40.40,-42.29],[40.30,-42.48],[40.20,-42.11],[40.15,-41.17],[40.07,-40.62],[40.01,-41.64],[39.93,-42.76],[39.85,-43.04],[39.75,-43.23],[39.66,-43.18],[39.56,-43.32],[39.46,-43.41],[39.36,-43.51],[39.26,-43.46],[39.17,-43.55],[39.07,-43.41],[38.97,-43.32],[38.87,-43.04],[38.77,-43.13],[38.67,-42.95],[38.58,-42.57],[38.48,-42.39],[38.38,-42.29],[38.28,-41.64],[38.20,-40.24],[38.13,-38.47],[38.05,-38.84],[37.95,-39.03],[37.85,-38.94],[37.75,-39.03],[37.66,-39.22],[37.56,-39.54],[37.46,-39.68],[37.36,-39.87],[37.26,-39.87],[37.17,-40.24],[37.07,-40.90],[36.97,-41.22],[36.87,-41.31],[36.77,-41.17],[36.68,-41.36],[36.58,-42.29],[36.48,-42.76],[36.38,-42.90],[36.28,-42.95],[36.19,-43.13],[36.09,-43.41],[35.99,-43.51],[35.93,-43.79],[35.85,-43.41],[35.75,-42.76],[35.66,-41.83],[35.56,-40.62],[35.50,-39.59],[35.40,-39.12],[35.30,-39.87],[35.21,-40.06],[35.11,-40.43],[35.01,-40.62],[34.91,-40.85],[34.81,-40.99],[34.72,-41.64],[34.66,-42.48],[34.58,-42.99],[34.48,-42.99],[34.38,-42.99],[34.28,-42.99],[34.19,-42.90],[34.09,-42.90],[33.99,-42.95],[33.89,-42.57],[33.79,-40.99],[33.70,-40.24],[33.60,-39.78],[33.50,-40.24],[33.42,-42.20],[33.34,-43.46],[33.25,-43.65],[33.15,-43.79],[33.05,-43.88],[32.95,-44.02],[32.85,-44.35],[32.80,-44.58],[32.72,-44.02],[32.64,-42.76],[32.56,-40.90],[32.46,-39.87],[32.36,-40.34],[32.27,-40.71],[32.17,-40.90],[32.07,-41.64],[32.01,-42.39],[31.97,-43.69],[31.87,-43.74],[31.78,-43.83],[31.68,-43.74],[31.58,-43.79],[31.48,-43.83],[31.38,-43.79],[31.29,-43.88],[31.19,-43.83],[31.09,-43.79],[30.99,-43.88],[30.89,-43.69],[30.80,-43.04],[30.74,-42.95],[30.64,-43.51],[30.54,-43.88],[30.44,-44.44],[30.35,-44.62],[30.25,-44.67],[30.15,-44.86],[30.05,-44.48],[29.95,-44.76],[29.86,-44.72],[29.76,-44.48],[29.66,-45.00],[29.56,-44.86],[29.46,-44.44],[29.37,-44.21],[29.27,-44.11],
[29.18,-44.25],[29.08,-44.16],[28.98,-43.41],[28.93,-42.48],[28.87,-41.36],[28.79,-40.24],[28.73,-40.01],[28.65,-40.99],[28.59,-42.11],[28.53,-43.13],[28.43,-43.79],[28.34,-43.97],[28.24,-44.21],[28.14,-44.35],[28.04,-44.48],[27.95,-44.21],[27.87,-43.88],[27.81,-42.85],[27.75,-41.55],[27.69,-40.62],[27.63,-39.68],[27.57,-40.62],[27.51,-42.48],[27.46,-43.41],[27.40,-43.88],[27.32,-44.06],[27.22,-43.41],[27.12,-43.51],[27.02,-43.69],[26.93,-43.79],[26.83,-43.97],[26.73,-43.88],[26.63,-44.21],[26.53,-43.97],[26.44,-43.79],[26.34,-42.90],[26.24,-42.85],[26.14,-42.95],[26.04,-43.41],[25.95,-44.06],[25.85,-44.35],[25.75,-44.30],[25.65,-43.69],[25.55,-43.65],[25.46,-43.79],[25.36,-43.69],[25.26,-43.41],[25.16,-43.37],[25.06,-43.51],[24.97,-43.69],[24.87,-43.97],[24.77,-43.88],[24.67,-43.65],[24.57,-43.41],[24.48,-43.51],[24.38,-43.51],[24.28,-43.69],[24.18,-43.65],[24.08,-43.41],[23.99,-43.23],[23.89,-43.69],[23.79,-43.79],[23.69,-43.88],[23.59,-43.97],[23.50,-43.51],[23.46,-42.48],[23.40,-41.55],[23.34,-41.17],[23.26,-40.99],[23.18,-42.01],[23.10,-42.29],[23.01,-41.92],[22.91,-41.92],[22.81,-41.83],[22.71,-42.29],[22.61,-42.48],[22.52,-42.76],[22.42,-42.57],[22.32,-42.20],[22.22,-41.83],[22.12,-42.20],[22.03,-42.48],[21.93,-42.76],[21.83,-42.95],[21.73,-43.13],[21.63,-42.85],[21.54,-42.85],[21.44,-42.76],[21.34,-42.48],[21.24,-42.76],[21.14,-42.95],[21.05,-43.13],[20.95,-43.23],[20.85,-42.95],[20.75,-42.20],[20.65,-41.92],[20.56,-42.48],[20.46,-43.13],[20.36,-42.85],[20.26,-42.57],[20.16,-42.20],[20.07,-42.11],[19.97,-41.83],[19.87,-41.64],[19.77,-41.45],[19.67,-41.36],[19.58,-41.64],[19.48,-41.83],[19.38,-42.01],[19.28,-42.11],[19.18,-41.92],[19.09,-41.64],[18.99,-41.55],[18.89,-41.45],[18.79,-41.36],[18.69,-41.45],[18.60,-41.08],[18.50,-41.92],[18.40,-42.29],[18.30,-42.48],[18.20,-42.29],[18.11,-42.20],[18.01,-42.01],[17.91,-41.73],[17.81,-41.36],[17.71,-41.08],[17.62,-40.71],[17.52,-40.62],[17.42,-40.80],[17.32,-40.99],[17.22,-40.71],[17.13,-40.62],[17.03,-40.71],[16.93,-40.80],[16.83,-40.71],[16.73,-40.80],[16.64,-41.08],[16.54,-41.36],[16.44,-41.73],[16.34,-41.83],[16.24,-42.01],[16.15,-42.48],[16.05,-42.57],[15.95,-42.01],[15.85,-42.29],[15.75,-42.67],[15.66,-42.85],[15.56,-42.76],[15.46,-42.39],[15.36,-42.11],[15.26,-42.01],[15.17,-42.20],[15.07,-41.92],[14.97,-41.73],[14.87,-41.45],[14.77,-41.08],[14.68,-40.06],[14.64,-38.56],[14.60,-37.45],[14.56,-36.70],[14.50,-36.61],[14.44,-36.89],[14.36,-37.35],[14.28,-37.82],[14.19,-38.00],[14.13,-38.75],[14.05,-39.31],[13.99,-38.94],[13.91,-38.56],[13.83,-38.38],[13.75,-38.94],[13.68,-39.03],[13.60,-38.84],[13.50,-38.56],[13.40,-38.94],[13.30,-39.50],[13.21,-39.96],[13.15,-40.34],[13.07,-39.87],[12.99,-39.50],[12.91,-39.31],[12.83,-40.15],[12.76,-40.71],[12.68,-41.45],[12.62,-41.27],[12.52,-40.99],[12.42,-40.90],[12.32,-40.85],[12.23,-40.71],[12.13,-40.62],[12.03,-40.52],[11.93,-40.34],[11.83,-40.15],[11.77,-39.68],[11.74,-38.94],[11.68,-38.00],[11.60,-37.63],[11.54,-37.54],[11.44,-37.35],[11.34,-37.17],[11.25,-36.98],[11.15,-36.89],[11.05,-37.03],[10.95,-36.89],[10.85,-36.70],[10.76,-36.33],[10.66,-36.10],[10.52,-36.05],[10.33,-36.00]];

// ---------------- DRAWING ----------------
const W = 1047, H = 1568;
const svg = d3.select("#chart");
svg.append("rect").attr("width",W).attr("height",H).attr("fill","#fff");

const FONT = '"Liberation Sans",Arial,Helvetica,sans-serif';
const FRAME = "#2a3b9c", GRID = "#3c4fc4";
const PINK_FILL = "#ecd6e7", PINK_EDGE = "#c88cc4";
const TEAL_FILL = "#d5ece8", TEAL_EDGE = "#63caca";
const RED = "#e8303a";

const left = 71, right = 1006;
const x = d3.scaleLinear().domain([65,10]).range([left,right]);
const panelH = 358;
const tops = [68, 426, 784, 1142];

const fmt1 = d => d.toFixed(1);
const fmt0 = d => String(d);

const panels = [
  {letter:"a", domain:[4.2,3.2], data:benthic, ticks:benthicTicks, grid:benthicGrid, fmt:fmt1,
   bands:[[aimBands,PINK_FILL,PINK_EDGE]], title:"SO-185 18460", titleY:258,
   yl:["Benthic δ","18","O [‰ vs. PDB]"], ylY:247},
  {letter:"b", domain:[-54,-46], data:edml, ticks:edmlTicks, grid:edmlGrid, fmt:fmt0,
   bands:[[aimBands,PINK_FILL,PINK_EDGE],[aimBandsExtra,PINK_FILL,PINK_EDGE]], title:"EPICA", titleY:617,
   yl:["EDML δ","18","O [‰ vs. SMOW]"], ylY:616},
  {letter:"c", domain:[-0.9,-2.0], data:planktonic, ticks:planktonicTicks, grid:planktonicGrid, fmt:fmt1,
   bands:[[doBands,TEAL_FILL,TEAL_EDGE]], title:"SO-185 18460", titleY:975,
   yl:["Planktonic δ","18","O [‰ vs. PDB]"], ylY:967},
  {letter:"d", domain:[-46,-36], data:ngrip, ticks:ngripTicks, grid:ngripGrid, fmt:fmt0,
   bands:[[doBands,TEAL_FILL,TEAL_EDGE],[doBandsExtra,TEAL_FILL,TEAL_EDGE]], title:"NGRIP", titleY:1332,
   yl:["NGRIP δ","18","O [‰ vs. SMOW]"], ylY:1315}
];

function rtext(g, px, py, str, o={}) {
  const t = g.append("text")
    .attr("transform", `translate(${px},${py}) rotate(${o.rot===undefined?90:o.rot})`)
    .attr("text-anchor", o.anchor||"middle")
    .attr("dominant-baseline", "central")
    .attr("font-family", FONT)
    .attr("font-size", o.size||21)
    .attr("fill", o.fill||"#000");
  if (str !== null) t.text(str);
  return t;
}

const plusPath = s => `M${-s},0H${s}M0,${-s}V${s}`;

panels.forEach((p, i) => {
  const top = tops[i], bottom = top + panelH;
  const y = d3.scaleLinear().domain(p.domain).range([top, bottom]);
  const g = svg.append("g");

  p.bands.forEach(([list, fill, edge]) => {
    const bg = g.append("g");
    bg.selectAll("rect").data(list).join("rect")
      .attr("x", d => x(d[0])).attr("width", d => x(d[1]) - x(d[0]))
      .attr("y", top).attr("height", panelH).attr("fill", fill);
    bg.selectAll("line").data(list.flat()).join("line")
      .attr("x1", d => x(d)).attr("x2", d => x(d))
      .attr("y1", top).attr("y2", bottom)
      .attr("stroke", edge).attr("stroke-width", 1.2);
  });

  g.append("g").selectAll("line").data(ageGridTicks).join("line")
    .attr("x1", d => x(d)).attr("x2", d => x(d)).attr("y1", top).attr("y2", bottom)
    .attr("stroke", GRID).attr("stroke-width", 0.9).attr("stroke-dasharray", "2.5,2");
  g.append("g").selectAll("line").data(p.grid).join("line")
    .attr("x1", left).attr("x2", right).attr("y1", d => y(d)).attr("y2", d => y(d))
    .attr("stroke", GRID).attr("stroke-width", 1).attr("stroke-dasharray", "2.5,2");

  const tk = g.append("g").attr("stroke", FRAME).attr("stroke-width", 1.2);
  ageGridTicks.concat(ageLabelTicks).forEach(a => {
    tk.append("line").attr("x1", x(a)).attr("x2", x(a)).attr("y1", top).attr("y2", top + 5);
    tk.append("line").attr("x1", x(a)).attr("x2", x(a)).attr("y1", bottom).attr("y2", bottom - 5);
  });
  p.grid.forEach(v => {
    tk.append("line").attr("x1", left).attr("x2", left + 5).attr("y1", y(v)).attr("y2", y(v));
    tk.append("line").attr("x1", right).attr("x2", right - 5).attr("y1", y(v)).attr("y2", y(v));
  });

  g.append("rect").attr("x", left).attr("y", top).attr("width", right - left).attr("height", panelH)
    .attr("fill", "none").attr("stroke", FRAME).attr("stroke-width", 1.6);

  const cid = "clip" + i;
  svg.append("clipPath").attr("id", cid).append("rect")
    .attr("x", left).attr("y", top).attr("width", right - left).attr("height", panelH);
  const dg = g.append("g").attr("clip-path", `url(#${cid})`);
  const line = d3.line().x(d => x(d[0])).y(d => y(d[1]));
  const dense = i === 3;
  dg.append("path").datum(p.data).attr("d", line).attr("fill", "none")
    .attr("stroke", "#111").attr("stroke-width", dense ? 1.5 : 1.1);
  dg.append("g").selectAll("path").data(p.data).join("path")
    .attr("transform", d => `translate(${x(d[0])},${y(d[1])})`)
    .attr("d", plusPath(dense ? 2.5 : 2)).attr("stroke", "#111").attr("stroke-width", dense ? 1.4 : 1.1);

  p.ticks.forEach(v => rtext(svg, 55, y(v), p.fmt(v), {size:22}));

  const yt = rtext(svg, 17, p.ylY, null, {size:22});
  yt.append("tspan").text(p.yl[0]);
  yt.append("tspan").attr("font-size", 13).attr("dy", -8).text(p.yl[1]);
  yt.append("tspan").attr("dy", 8).text(p.yl[2]);

  rtext(svg, 1027, p.titleY, p.title, {size:22});
  rtext(svg, 100, bottom - 21, p.letter, {size:31});

  p.y = y; p.g = g;
});

function redPlus(p, list) {
  p.g.append("g").selectAll("path").data(list).join("path")
    .attr("transform", d => `translate(${x(d[0])},${p.y(d[1])})`)
    .attr("d", plusPath(6.5)).attr("stroke", RED).attr("stroke-width", 2);
}
function redMinus(p, list) {
  p.g.append("g").selectAll("line").data(list).join("line")
    .attr("x1", d => x(d[0])).attr("x2", d => x(d[0]))
    .attr("y1", d => p.y(d[1]) - 7.5).attr("y2", d => p.y(d[1]) + 7.5)
    .attr("stroke", RED).attr("stroke-width", 2);
}
redPlus(panels[0], benthicPlus);
redMinus(panels[0], benthicMinus);
redPlus(panels[1], edmlPlus);
redMinus(panels[2], planktonicMinus);
redMinus(panels[3], ngripMinus);

const DARK = "#2a2a2a", GRAY = "#8a8a8a";
aimLabels.forEach(([s,a]) => rtext(svg, x(a), 472, s, {anchor:"start", size:20, fill:DARK}));
aimLabelsHigh.forEach(([s,a]) => rtext(svg, x(a), 438, s, {anchor:"start", size:20, fill:DARK}));
aimLabelsGray.forEach(([s,a]) => rtext(svg, x(a), 706, s, {anchor:"start", size:20, fill:GRAY}));
aimLabelsGrayLow.forEach(([s,a]) => rtext(svg, x(a), 728, s, {anchor:"start", size:20, fill:GRAY}));
doLabels.forEach(([s,a]) => rtext(svg, x(a), 1153, s, {anchor:"start", size:20, fill:DARK}));
doLabels2.forEach(([s,a]) => rtext(svg, x(a), 1158, s, {anchor:"start", size:20, fill:DARK}));
rtext(svg, x(58.59), 1215, "17", {anchor:"end", size:20, fill:DARK});
doLabelsGray.forEach(([s,a]) => rtext(svg, x(a), 1425, s, {anchor:"start", size:20, fill:GRAY}));
doLabelsGray2.forEach(([s,a]) => rtext(svg, x(a), 1419, s, {anchor:"start", size:20, fill:GRAY}));
doLabelsGray3.forEach(([s,a]) => rtext(svg, x(a), 1457, s, {anchor:"start", size:20, fill:GRAY}));
heinrichLabels.forEach(([s,a]) => rtext(svg, x(a), 1360, s, {anchor:"start", size:20, fill:DARK}));

ageLabelTicks.forEach(a => {
  rtext(svg, x(a), 52, String(a), {size:22});
  rtext(svg, x(a), 1518, String(a), {size:22});
});
rtext(svg, 558, 19, "Age [ka]", {rot:0, size:22});
rtext(svg, 570, 1552, "Age [ka]", {rot:180, size:22});
</script>
</body></html>
